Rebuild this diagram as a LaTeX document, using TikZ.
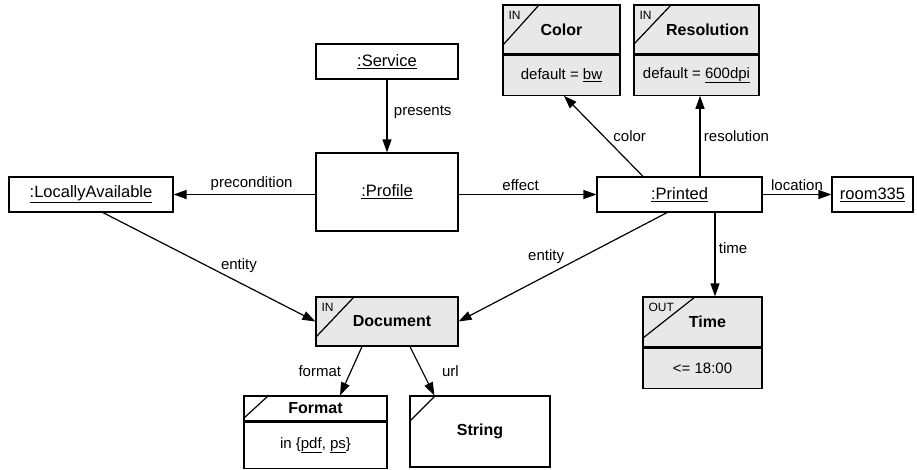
\documentclass[tikz,border=0pt]{standalone}
\usepackage{fontspec}
\setmainfont{Liberation Sans}
\usetikzlibrary{arrows.meta,positioning}

\begin{document}
\begin{tikzpicture}[x=1pt,y=-1pt,
    every node/.style={font=\fontsize{15}{18}\selectfont},
    obj/.style={draw,line width=1.2pt,fill=white,inner sep=0pt,minimum width=#1,minimum height=35pt,font=\fontsize{16.5}{19}\selectfont},
    cls/.style={draw,line width=1.2pt,fill=gray!18,inner sep=0pt,font=\bfseries\fontsize{16}{19}\selectfont},
    part/.style={draw,line width=1.2pt,fill=gray!18,inner sep=0pt},
    corner/.style n args={3}{path picture={
      \draw[line width=1.2pt] (path picture bounding box.north west) ++(#2,0) -- ++(-#2,#3);},
      label={[anchor=north west,inner sep=0pt,xshift=6pt,yshift=-7pt,font=\mdseries\fontsize{12}{13}\selectfont]north west:#1}},
    arr/.style={line width=1.2pt,-{Triangle[length=13pt,width=9pt]}}]
  \useasboundingbox (0,0) rectangle (917,469);

  \node[obj=142pt] (service) at (387,61.5) {\underline{:Service}};
  \node[obj=142pt,minimum height=78pt] (profile) at (387,192) {\underline{:Profile}};
  \node[obj=164pt] (avail) at (91,194.5) {\underline{:LocallyAvailable}};
  \node[obj=165pt] (printed) at (679.5,194.5) {\underline{:Printed}};
  \node[obj=81pt] (room) at (872.5,194.5) {\underline{room335}};

  \node[cls,corner={IN}{36}{40},minimum width=117pt,minimum height=49pt] (colhead) at (561.5,29.5) {Color};
  \node[part,minimum width=117pt,minimum height=40pt,below=0pt of colhead] (colbody) {default = \underline{bw}};
  \node[cls,corner={IN}{37}{39},minimum width=125pt,minimum height=49pt] (reshead) at (696.5,29.5) {\hspace*{22pt}Resolution};
  \node[part,minimum width=125pt,minimum height=40pt,below=0pt of reshead] (resbody) {default = \underline{600dpi}};
  \node[cls,corner={OUT}{52}{41},minimum width=119pt,minimum height=50pt] (timehead) at (702.5,322) {\hspace*{10pt}Time};
  \node[part,minimum width=119pt,minimum height=40pt,below=0pt of timehead] (timebody) {<= 18:00};
  \node[cls,corner={IN}{38}{40},minimum width=142pt,minimum height=49pt] (doc) at (387,321.5) {\hspace*{10pt}Document};
  \node[cls,fill=white,corner={}{24}{22},minimum width=143pt,minimum height=25pt] (fmthead) at (315.5,408.5) {Format};
  \node[part,fill=white,minimum width=143pt,minimum height=46pt,below=0pt of fmthead] (fmtbody) {in \{\underline{pdf}, \underline{ps}\}};
  \node[cls,fill=white,corner={}{25}{25},minimum width=140pt,minimum height=71pt] (string) at (480,431.5) {String};

  \draw[arr] (service) -- (profile) node[right=3pt,pos=0.45] {presents};
  \draw[arr] (profile.west |- avail.east) -- (avail.east) node[above,pos=0.45] {precondition};
  \draw[arr] (profile.east |- printed.west) -- (printed.west) node[above,pos=0.45] {effect};
  \draw[arr] (printed) -- (room) node[above,midway] {location};
  \draw[arr] ([xshift=-36.5pt]printed.north) -- ([xshift=2.5pt]colbody.south) node[right=6pt,midway] {color};
  \draw[arr] ([xshift=20.5pt]printed.north) -- ([xshift=20.5pt]printed.north |- resbody.south) node[right,midway] {resolution};
  \draw[arr] ([xshift=35.5pt]printed.south) -- ([xshift=35.5pt]printed.south |- timehead.north) node[right,pos=0.42] {time};
  \draw[arr] ([xshift=12pt]avail.south) -- (doc.west) node[above=6pt,pos=0.64] {entity};
  \draw[arr] ([xshift=-12.5pt]printed.south) -- (doc.east) node[above=8pt,pos=0.58] {entity};
  \draw[arr] ([xshift=-25pt]doc.south) -- ([xshift=24.5pt]fmthead.north) node[left=6pt,midway] {format};
  \draw[arr] ([xshift=23pt]doc.south) -- ([xshift=25pt]string.north west) node[right=16pt,midway] {url};
\end{tikzpicture}
\end{document}
